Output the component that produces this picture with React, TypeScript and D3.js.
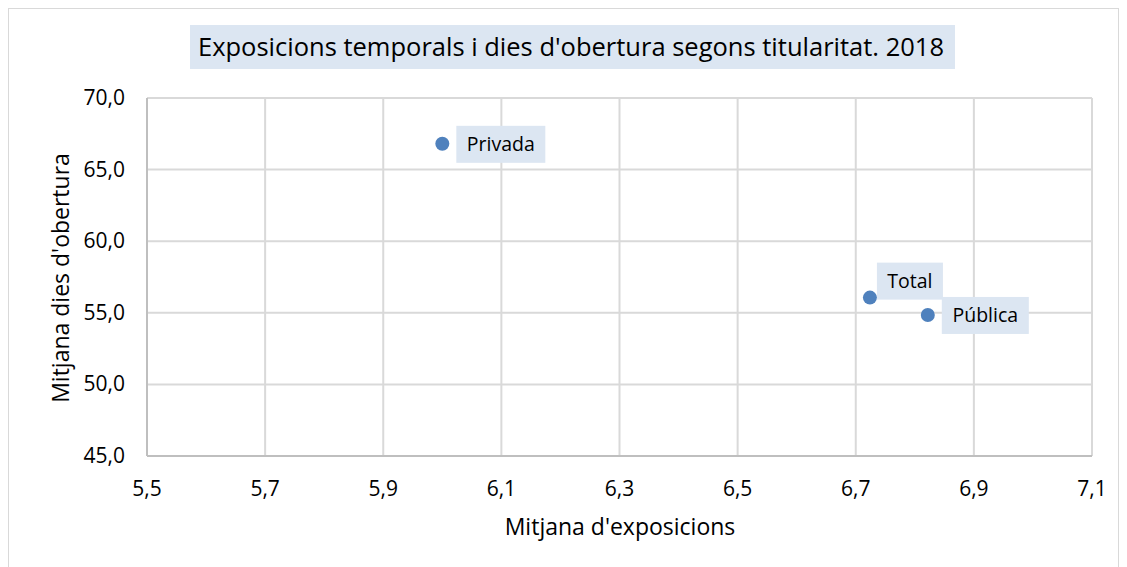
import React from 'react';
import * as d3 from 'd3';

const labels = ['Privada', 'Total', 'Pública'];
const exposicions = [6.0, 6.724, 6.822];
const diesObertura = [66.8, 56.06, 54.85];
const xTicks = [5.5, 5.7, 5.9, 6.1, 6.3, 6.5, 6.7, 6.9, 7.1];
const yTicks = [45, 50, 55, 60, 65, 70];

const W = 1127;
const H = 567;
const left = 147;
const right = 1092;
const top = 98;
const bottom = 456;
const font = '"Open Sans", sans-serif';
const fmt = (v: number) => d3.format('.1f')(v).replace('.', ',');

// offsets for data label boxes relative to the point [dx, dy, w, h]
const labelBoxes = [
  [14, -18, 89, 37],
  [7, -35, 66, 37],
  [14, -18, 87, 37],
];

const App = () => {
  const x = d3.scaleLinear().domain([5.5, 7.1]).range([left, right]);
  const y = d3.scaleLinear().domain([45, 70]).range([bottom, top]);

  return (
    <svg width={W} height={H} style={{ position: 'absolute', left: 0, top: 0 }}>
      <rect x={0} y={0} width={W} height={H} fill="#fff" />
      <rect x={8.5} y={8.5} width={1110} height={H} fill="none" stroke="#d9d9d9" />
      <rect x={190} y={25} width={765} height={44} fill="#dce6f2" />
      <text x={571} y={56} textAnchor="middle" fontFamily={font} fontSize={25.5} fill="#000">
        Exposicions temporals i dies d'obertura segons titularitat. 2018
      </text>

      {xTicks.map(t => (
        <line key={'gx' + t} x1={x(t)} x2={x(t)} y1={top} y2={bottom} stroke="#d9d9d9" strokeWidth={2} />
      ))}
      {yTicks.map(t => (
        <line key={'gy' + t} x1={left} x2={right} y1={y(t)} y2={y(t)} stroke="#d9d9d9" strokeWidth={2} />
      ))}
      <line x1={left} x2={right} y1={bottom} y2={bottom} stroke="#bfbfbf" strokeWidth={2} />
      <line x1={left} x2={left} y1={top} y2={bottom} stroke="#bfbfbf" strokeWidth={2} />

      {xTicks.map(t => (
        <text key={'tx' + t} x={x(t)} y={496} textAnchor="middle" fontFamily={font} fontSize={21} fill="#000">
          {fmt(t)}
        </text>
      ))}
      {yTicks.map(t => (
        <text key={'ty' + t} x={125} y={y(t) + 7} textAnchor="end" fontFamily={font} fontSize={21} fill="#000">
          {fmt(t)}
        </text>
      ))}

      <text x={620} y={535} textAnchor="middle" fontFamily={font} fontSize={23} fill="#000">
        Mitjana d'exposicions
      </text>
      <text
        transform={`translate(69, 278) rotate(-90)`}
        textAnchor="middle"
        fontFamily={font}
        fontSize={23}
        fill="#000"
      >
        Mitjana dies d'obertura
      </text>

      {labels.map((l, i) => {
        const px = x(exposicions[i]);
        const py = y(diesObertura[i]);
        const [dx, dy, bw, bh] = labelBoxes[i];
        return (
          <g key={l}>
            <rect x={px + dx} y={py + dy} width={bw} height={bh} fill="#dce6f2" />
            <text x={px + dx + bw / 2} y={py + dy + 25.5} textAnchor="middle" fontFamily={font} fontSize={19.5} fill="#000">
              {l}
            </text>
          </g>
        );
      })}
      {labels.map((l, i) => (
        <circle key={'p' + l} cx={x(exposicions[i])} cy={y(diesObertura[i])} r={7} fill="#4f81bd" />
      ))}
    </svg>
  );
};

export default App;
